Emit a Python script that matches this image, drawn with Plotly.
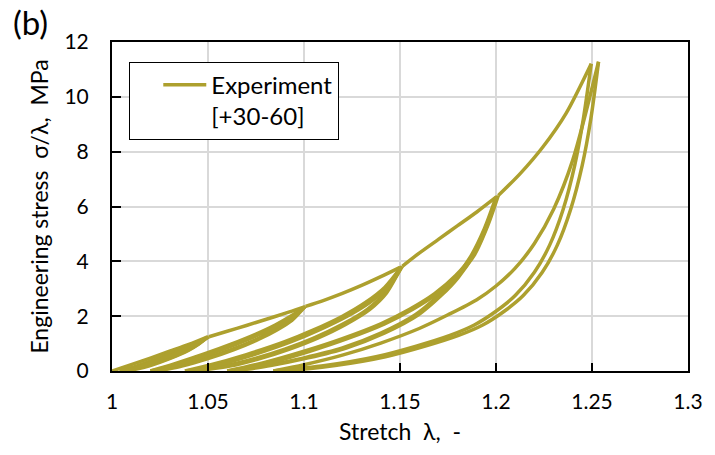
import plotly.graph_objects as go

# ---------------- data (stretch λ, engineering stress σ/λ in MPa) ----------------
# virgin loading envelope segments
lam_env0 = [1.000, 1.010, 1.020, 1.030, 1.040, 1.0495]
sig_env0 = [0.00, 0.23, 0.47, 0.72, 0.97, 1.24]
lam_env1 = [1.0505, 1.060, 1.070, 1.080, 1.090, 1.0998]
sig_env1 = [1.25, 1.45, 1.66, 1.88, 2.10, 2.33]
lam_env2 = [1.1008, 1.110, 1.120, 1.130, 1.140, 1.150]
sig_env2 = [2.36, 2.57, 2.83, 3.12, 3.44, 3.78]
lam_env3 = [1.1512, 1.160, 1.170, 1.180, 1.190, 1.200]
sig_env3 = [3.82, 4.30, 4.80, 5.30, 5.80, 6.34]
lam_env4 = [1.2012, 1.2126, 1.2246, 1.2365, 1.2496]
sig_env4 = [6.40, 7.20, 8.19, 9.40, 11.21]

# cycle to λ = 1.05
lam_u1_105 = [1.0495, 1.045, 1.040, 1.030, 1.020, 1.010, 1.004]
sig_u1_105 = [1.24, 0.98, 0.78, 0.47, 0.24, 0.07, 0.00]
lam_r1_105 = [1.004, 1.010, 1.020, 1.030, 1.040, 1.045, 1.050]
sig_r1_105 = [0.00, 0.12, 0.36, 0.62, 0.90, 1.05, 1.25]
lam_u2_105 = [1.050, 1.045, 1.040, 1.030, 1.020, 1.012, 1.007]
sig_u2_105 = [1.25, 0.97, 0.76, 0.45, 0.20, 0.06, 0.00]
lam_r2_105 = [1.007, 1.015, 1.025, 1.035, 1.045, 1.0505]
sig_r2_105 = [0.00, 0.17, 0.43, 0.70, 1.02, 1.25]

# cycle to λ = 1.10
lam_u1_110 = [1.0998, 1.093, 1.085, 1.075, 1.062, 1.048, 1.034, 1.020]
sig_u1_110 = [2.33, 1.85, 1.50, 1.15, 0.78, 0.45, 0.18, 0.00]
lam_r1_110 = [1.020, 1.032, 1.048, 1.062, 1.075, 1.085, 1.093, 1.1005]
sig_r1_110 = [0.00, 0.25, 0.62, 0.98, 1.35, 1.68, 2.00, 2.35]
lam_u2_110 = [1.1005, 1.0937, 1.0859, 1.0762, 1.0636, 1.0500, 1.0364, 1.024]
sig_u2_110 = [2.35, 1.85, 1.50, 1.15, 0.78, 0.45, 0.18, 0.00]
lam_r2_110 = [1.024, 1.0357, 1.0512, 1.0649, 1.0775, 1.0872, 1.0950, 1.1008]
sig_r2_110 = [0.00, 0.25, 0.62, 0.98, 1.35, 1.68, 2.00, 2.36]

# cycle to λ = 1.15
lam_u1_115 = [1.150, 1.142, 1.133, 1.120, 1.105, 1.090, 1.075, 1.058, 1.038]
sig_u1_115 = [3.78, 2.85, 2.25, 1.70, 1.20, 0.80, 0.47, 0.18, 0.00]
lam_r1_115 = [1.038, 1.050, 1.070, 1.090, 1.105, 1.120, 1.132, 1.142, 1.1508]
sig_r1_115 = [0.00, 0.20, 0.60, 1.07, 1.50, 2.00, 2.50, 3.05, 3.81]
lam_u2_115 = [1.1508, 1.1430, 1.1343, 1.1217, 1.1071, 1.0925, 1.0779, 1.0614, 1.043]
sig_u2_115 = [3.81, 2.85, 2.25, 1.70, 1.20, 0.80, 0.47, 0.18, 0.00]
lam_r2_115 = [1.043, 1.0546, 1.074, 1.0934, 1.1079, 1.1225, 1.1342, 1.1439, 1.1512]
sig_r2_115 = [0.00, 0.20, 0.60, 1.07, 1.50, 2.00, 2.50, 3.05, 3.82]

# cycle to λ = 1.20
lam_u1_120 = [1.200, 1.194, 1.187, 1.179, 1.170, 1.158, 1.140, 1.120, 1.100, 1.080, 1.060]
sig_u1_120 = [6.34, 5.20, 4.20, 3.40, 2.75, 2.05, 1.38, 0.84, 0.48, 0.20, 0.00]
lam_r1_120 = [1.060, 1.080, 1.100, 1.120, 1.140, 1.155, 1.168, 1.179, 1.188, 1.195, 1.2006]
sig_r1_120 = [0.00, 0.32, 0.72, 1.18, 1.72, 2.25, 2.82, 3.48, 4.25, 5.30, 6.38]
lam_u2_120 = [1.2006, 1.1948, 1.1880, 1.1802, 1.1714, 1.1596, 1.1418, 1.1220, 1.1022, 1.0826, 1.064]
sig_u2_120 = [6.38, 5.20, 4.20, 3.40, 2.75, 2.05, 1.38, 0.84, 0.48, 0.20, 0.00]
lam_r2_120 = [1.064, 1.0835, 1.103, 1.1225, 1.142, 1.1567, 1.1694, 1.1801, 1.1889, 1.1957, 1.2012]
sig_r2_120 = [0.00, 0.32, 0.72, 1.18, 1.72, 2.25, 2.82, 3.48, 4.25, 5.30, 6.40]

# cycle to λ = 1.25
lam_u1_125 = [1.2496, 1.2455, 1.2410, 1.2350, 1.2280, 1.2200, 1.2100, 1.2000, 1.1887, 1.1760, 1.1580, 1.1375, 1.1110, 1.0840]
sig_u1_125 = [11.21, 9.20, 7.50, 5.90, 4.60, 3.60, 2.75, 2.18, 1.68, 1.30, 0.90, 0.52, 0.20, 0.00]
lam_r1_125 = [1.084, 1.100, 1.120, 1.140, 1.160, 1.175, 1.190, 1.200, 1.210, 1.220, 1.230, 1.240, 1.2534]
sig_r1_125 = [0.00, 0.23, 0.58, 1.02, 1.55, 2.05, 2.60, 3.10, 3.75, 4.65, 5.90, 7.70, 11.28]
lam_u2_125 = [1.2534, 1.2494, 1.2449, 1.2389, 1.2320, 1.2241, 1.2142, 1.2043, 1.1931, 1.1805, 1.1627, 1.1424, 1.1162, 1.0900]
sig_u2_125 = [11.28, 9.20, 7.50, 5.90, 4.60, 3.60, 2.75, 2.18, 1.68, 1.30, 0.90, 0.52, 0.20, 0.00]

path = [
    (lam_env0, sig_env0),
    (lam_u1_105, sig_u1_105), (lam_r1_105, sig_r1_105), (lam_u2_105, sig_u2_105), (lam_r2_105, sig_r2_105),
    (lam_env1, sig_env1),
    (lam_u1_110, sig_u1_110), (lam_r1_110, sig_r1_110), (lam_u2_110, sig_u2_110), (lam_r2_110, sig_r2_110),
    (lam_env2, sig_env2),
    (lam_u1_115, sig_u1_115), (lam_r1_115, sig_r1_115), (lam_u2_115, sig_u2_115), (lam_r2_115, sig_r2_115),
    (lam_env3, sig_env3),
    (lam_u1_120, sig_u1_120), (lam_r1_120, sig_r1_120), (lam_u2_120, sig_u2_120), (lam_r2_120, sig_r2_120),
    (lam_env4, sig_env4),
    (lam_u1_125, sig_u1_125), (lam_r1_125, sig_r1_125), (lam_u2_125, sig_u2_125),
]

x_tick_vals = [1.0, 1.05, 1.1, 1.15, 1.2, 1.25, 1.3]
x_tick_text = ["1", "1.05", "1.1", "1.15", "1.2", "1.25", "1.3"]
y_tick_vals = [0, 2, 4, 6, 8, 10, 12]
y_tick_text = ["0", "2", "4", "6", "8", "10", "12"]

series_name = "Experiment<br>[+30-60]"
LINE_COLOR = "#ADA02E"
FONT = "Lato"

fig = go.Figure()
for i, (lx, sy) in enumerate(path):
    fig.add_trace(go.Scatter(
        x=lx, y=sy, mode="lines", name=series_name, legendgroup="exp",
        showlegend=(i == 0),
        line=dict(color=LINE_COLOR, width=3.5, shape="spline", smoothing=0.8),
    ))

fig.update_layout(
    width=715, height=455,
    margin=dict(l=112, r=18, t=42, b=84),
    paper_bgcolor="white", plot_bgcolor="white",
    font=dict(family=FONT, color="black", size=21),
    showlegend=True,
    legend=dict(
        x=0.03, y=0.94, xanchor="left", yanchor="top",
        bordercolor="black", borderwidth=1, bgcolor="white",
        font=dict(family=FONT, size=24, color="black"),
        valign="top", indentation=28, itemwidth=43,
        entrywidth=218, entrywidthmode="pixels",
        tracegroupgap=0,
    ),
    annotations=[dict(
        text="(b)", xref="paper", yref="paper", x=-0.176, y=1.062,
        xanchor="left", yanchor="middle", showarrow=False,
        font=dict(family=FONT, size=33, color="black"),
    )],
)
fig.update_xaxes(
    range=[1.0, 1.3], tickvals=x_tick_vals, ticktext=x_tick_text,
    showgrid=True, gridcolor="#d9d9d9", gridwidth=2,
    showline=True, linecolor="black", linewidth=2, mirror=True,
    ticks="inside", ticklen=8, tickwidth=2, tickcolor="black",
    ticklabelstandoff=11, tickfont=dict(size=21),
    zeroline=False,
    title=dict(text="Stretch\u00a0\u00a0λ,\u00a0\u00a0-", font=dict(size=23), standoff=12),
)
fig.update_yaxes(
    range=[0, 12], tickvals=y_tick_vals, ticktext=y_tick_text,
    showgrid=True, gridcolor="#d9d9d9", gridwidth=2,
    showline=True, linecolor="black", linewidth=2, mirror=True,
    ticks="inside", ticklen=9, tickwidth=2, tickcolor="black",
    ticklabelstandoff=17, tickfont=dict(size=21),
    zeroline=False,
    title=dict(text="Engineering stress\u00a0\u00a0σ/λ,\u00a0\u00a0MPa", font=dict(size=23), standoff=9),
)

fig.write_html("out.html")
